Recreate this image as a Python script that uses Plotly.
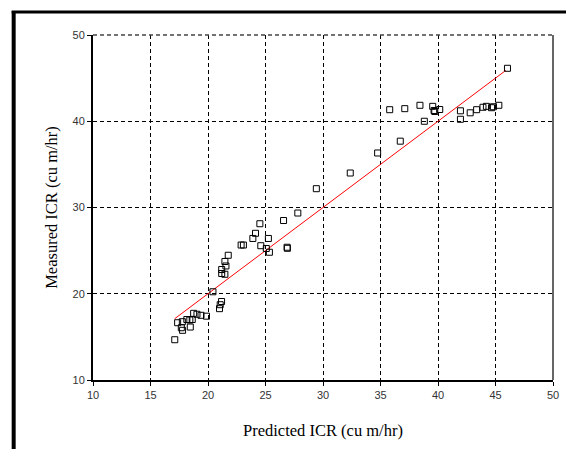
import plotly.graph_objects as go

# Measured vs predicted ICR
predicted = [17.11, 17.36, 17.77, 17.68, 17.79, 18.16, 18.42, 18.63, 18.46, 18.75,
             19.04, 19.39, 19.87, 20.43, 21.00, 21.06, 21.18, 21.19, 21.19, 21.47,
             21.56, 21.47, 21.76, 22.88, 23.08, 23.90, 24.13, 24.51, 24.59, 25.07,
             25.25, 25.34, 26.88, 26.90, 26.57, 27.81, 29.42, 32.37, 34.75, 36.72,
             35.80, 37.11, 38.43, 38.81, 39.54, 39.66, 39.72, 40.15, 41.95, 41.95,
             42.80, 43.36, 43.91, 44.21, 44.65, 44.82, 45.29, 46.04]
measured = [14.67, 16.64, 16.76, 16.06, 15.76, 17.01, 16.96, 17.01, 16.14, 17.73,
            17.62, 17.50, 17.40, 20.23, 18.27, 18.73, 19.10, 22.81, 22.35, 22.26,
            23.22, 23.74, 24.46, 25.65, 25.65, 26.41, 27.01, 28.12, 25.57, 25.25,
            26.41, 24.81, 25.39, 25.27, 28.49, 29.36, 32.18, 34.00, 36.32, 37.69,
            41.34, 41.46, 41.85, 40.00, 41.73, 41.25, 41.13, 41.36, 41.21, 40.23,
            40.98, 41.34, 41.62, 41.73, 41.57, 41.68, 41.85, 46.14]

fit_x = [17.1, 45.9]
fit_y = [17.1, 45.9]

x_ticks = [10, 15, 20, 25, 30, 35, 40, 45, 50]
y_ticks = [10, 20, 30, 40, 50]

# page has an 8px body offset; plot area in screen px: x 92.5-553.5, y 35-380
OFF = 8
L, R, T, B = 92.5 - OFF, 553.5 - OFF, 35 - OFF, 380 - OFF
W, H = R - L, B - T


def px(x):
    return (x - OFF - L) / W


def py(y):
    return (B - (y - OFF)) / H


fig = go.Figure()
fig.add_trace(go.Scatter(x=fit_x, y=fit_y, mode="lines",
                         line=dict(color="#ff0000", width=1), showlegend=False))
fig.add_trace(go.Scatter(x=predicted, y=measured, mode="markers",
                         marker=dict(symbol="square-open", size=6,
                                     color="black", line=dict(width=1)),
                         showlegend=False))

tickfont = dict(family="Liberation Sans, Arial, sans-serif", size=11, color="#333333")
titlefont = dict(family="Liberation Serif, Times New Roman, serif", size=16.5, color="black")

fig.update_layout(
    width=574, height=449,
    margin=dict(l=L, r=574 - R, t=T, b=449 - B, autoexpand=False),
    paper_bgcolor="white", plot_bgcolor="white",
    xaxis=dict(range=[10, 50], tickvals=x_ticks, ticks="outside", ticklen=4,
               tickcolor="black", tickfont=tickfont, showgrid=True,
               gridcolor="black", griddash="4px,3px", gridwidth=1,
               showline=True, linecolor="black", linewidth=2, zeroline=False,
               title=dict(text="Predicted ICR (cu m/hr)", font=titlefont, standoff=24),
               automargin=False),
    yaxis=dict(range=[10, 50], tickvals=y_ticks, ticks="outside", ticklen=4,
               tickcolor="black", tickfont=tickfont, showgrid=True,
               gridcolor="black", griddash="4px,3px", gridwidth=1,
               showline=True, linecolor="black", linewidth=2, zeroline=False,
               title=dict(text="Measured ICR (cu m/hr)", font=titlefont, standoff=11),
               automargin=False),
    shapes=[
        dict(type="line", xref="paper", yref="paper", x0=0, x1=1, y0=1, y1=1,
             line=dict(color="#444444", width=1.5, dash="4px,3px")),
        dict(type="line", xref="paper", yref="paper", x0=1, x1=1, y0=0, y1=1,
             line=dict(color="#333333", width=1.5)),
        dict(type="line", xref="paper", yref="paper",
             x0=px(13), x1=px(13), y0=py(11), y1=py(470),
             line=dict(color="black", width=4)),
        dict(type="line", xref="paper", yref="paper",
             x0=px(11), x1=px(600), y0=py(12), y1=py(12),
             line=dict(color="black", width=3)),
    ],
)

fig.write_html("out.html")
